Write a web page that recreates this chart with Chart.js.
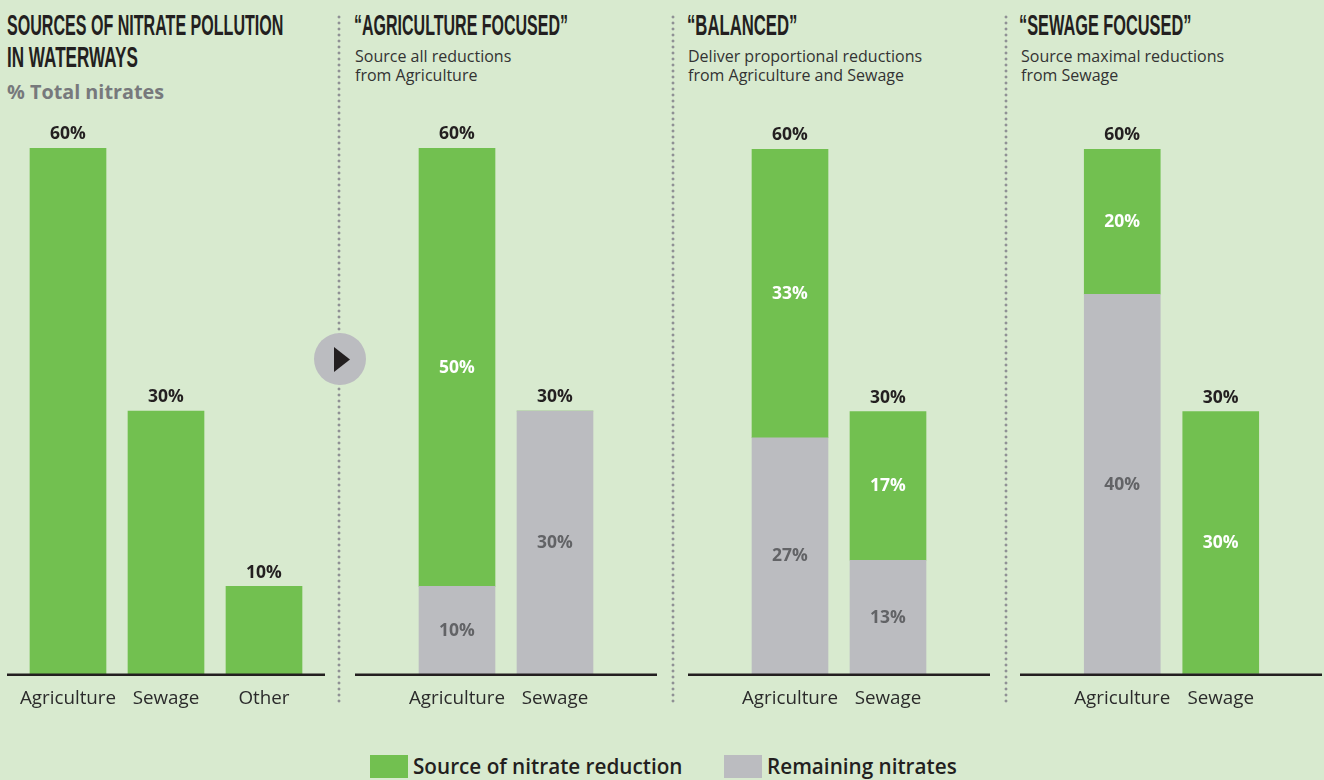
<!DOCTYPE html>
<html>
<head>
<meta charset="utf-8">
<script src="https://cdn.jsdelivr.net/npm/chart.js@4/dist/chart.umd.js"></script>
<style>
  html, body { margin: 0; padding: 0; }
  body { width: 1324px; height: 780px; background: #d8eacf; position: relative; overflow: hidden; font-family: "Open Sans", sans-serif; color: #231f20; }
  canvas { position: absolute; }
  .title { position: absolute; font-family: "Liberation Sans", sans-serif; font-weight: 700; font-size: 29px; line-height: 32px; white-space: nowrap; transform-origin: 0 0; }
  .sub { position: absolute; font-size: 16px; line-height: 19px; color: #333; white-space: nowrap; }
  .unit { position: absolute; left: 7px; top: 79px; font-size: 19.8px; line-height: 26px; font-weight: 700; color: #77797c; }
  .divider { position: absolute; top: 14px; height: 691px; width: 4px; background: radial-gradient(circle at 2px 3px, #8f9195 1.3px, transparent 1.7px) 0 0 / 4px 6px repeat-y; }
  .swatch { position: absolute; top: 755px; width: 38px; height: 23px; }
  .legend { position: absolute; top: 752px; font-size: 20.7px; line-height: 28px; font-weight: 600; white-space: nowrap; }
  .play { position: absolute; left: 314px; top: 333px; }
</style>
</head>
<body>
<div class="divider" style="left:337px"></div>
<div class="divider" style="left:671px"></div>
<div class="divider" style="left:1004px"></div>

<div class="title" style="left:7px;top:9px;transform:scaleX(0.554)">SOURCES OF NITRATE POLLUTION</div>
<div class="title" style="left:7px;top:41px;transform:scaleX(0.59)">IN WATERWAYS</div>
<div class="unit">% Total nitrates</div>

<div class="title" style="left:354px;top:9px;transform:scaleX(0.552)">“AGRICULTURE FOCUSED”</div>
<div class="sub" style="left:355px;top:47px">Source all reductions<br>from Agriculture</div>

<div class="title" style="left:687px;top:9px;transform:scaleX(0.576)">“BALANCED”</div>
<div class="sub" style="left:688px;top:47px">Deliver proportional reductions<br>from Agriculture and Sewage</div>

<div class="title" style="left:1019px;top:9px;transform:scaleX(0.563)">“SEWAGE FOCUSED”</div>
<div class="sub" style="left:1021px;top:47px">Source maximal reductions<br>from Sewage</div>

<svg class="play" width="52" height="52">
  <circle cx="26" cy="26" r="26" fill="#bbbcc0"></circle>
  <polygon points="20,14 36,26.5 20,39" fill="#231f20"></polygon>
</svg>

<canvas id="sources" style="left:7px;top:110px" width="318" height="610"></canvas>
<canvas id="agriculture" style="left:355px;top:110px" width="302" height="610"></canvas>
<canvas id="balanced" style="left:688px;top:110px" width="302" height="610"></canvas>
<canvas id="sewage" style="left:1020px;top:110px" width="302" height="610"></canvas>

<div class="swatch" style="left:370px;background:#72c050"></div>
<div class="legend" style="left:413px">Source of nitrate reduction</div>
<div class="swatch" style="left:724px;background:#bbbcc0"></div>
<div class="legend" style="left:767px">Remaining nitrates</div>

<script>
const GREEN = '#72c050';
const GREY = '#bbbcc0';
const DARK = '#231f20';

// first panel
const sourceCategories = ['Agriculture', 'Sewage', 'Other'];
const sourceGreen = [60, 30, 10];
const sourceTotals = ['60%', '30%', '10%'];

const twoCategories = ['Agriculture', 'Sewage'];
const twoTotals = ['60%', '30%'];

// "Agriculture focused"
const agricultureGreen = [50, 0];
const agricultureGrey = [10, 30];
const agricultureGreenLabels = ['50%', ''];
const agricultureGreyLabels = ['10%', '30%'];

// "Balanced"
const balancedGreen = [33, 17];
const balancedGrey = [27, 13];
const balancedGreenLabels = ['33%', '17%'];
const balancedGreyLabels = ['27%', '13%'];

// "Sewage focused" - bar split is drawn at about 43/17 in the picture, printed as 40/20
const sewageGreen = [16.6, 30];
const sewageGrey = [43.4, 0];
const sewageGreenLabels = ['20%', '30%'];
const sewageGreyLabels = ['40%', ''];

const barLabels = {
    id: 'barLabels',
    afterDatasetsDraw(chart) {
        const ctx = chart.ctx;
        const area = chart.chartArea;
        const y = chart.scales.y;

        // baseline runs the full canvas width, wider than the plot area
        ctx.save();
        ctx.fillStyle = DARK;
        ctx.fillRect(0, area.bottom - 0.5, chart.width, 2.5);

        ctx.textAlign = 'center';
        ctx.textBaseline = 'middle';
        ctx.font = '700 17.5px "Open Sans"';

        chart.data.datasets.forEach((ds, i) => {
            chart.getDatasetMeta(i).data.forEach((bar, j) => {
                const text = ds.inside[j];
                if (!text) return;
                ctx.fillStyle = ds.insideColor;
                ctx.fillText(text, bar.x, (bar.y + bar.base) / 2 + 0.5);
            });
        });

        const totals = chart.options.plugins.barLabels.totals;
        ctx.fillStyle = DARK;
        chart.getDatasetMeta(0).data.forEach((bar, j) => {
            const sum = chart.data.datasets.reduce((s, ds) => s + ds.data[j], 0);
            ctx.fillText(totals[j], bar.x, y.getPixelForValue(sum) - 13.5);
        });
        ctx.restore();
    }
};

function makePanel(id, categories, green, grey, greenLabels, greyLabels, totals, padLeft, padRight, padTop) {
    const datasets = [];
    if (grey) {
        datasets.push({ data: grey, backgroundColor: GREY, inside: greyLabels, insideColor: '#626366' });
    }
    datasets.push({ data: green, backgroundColor: GREEN, inside: greenLabels, insideColor: '#ffffff' });

    new Chart(document.getElementById(id), {
        type: 'bar',
        data: { labels: categories, datasets: datasets },
        plugins: [barLabels],
        options: {
            responsive: false,
            animation: false,
            layout: { padding: { left: padLeft, right: padRight, top: padTop, bottom: 0 } },
            datasets: { bar: { barThickness: 76 } },
            plugins: {
                legend: { display: false },
                tooltip: { enabled: false },
                barLabels: { totals: totals }
            },
            scales: {
                x: {
                    stacked: true,
                    grid: { display: false },
                    border: { display: false },
                    afterFit: scale => { scale.height = 46; },
                    ticks: {
                        autoSkip: false,
                        maxRotation: 0,
                        padding: 5,
                        color: '#2b2b2b',
                        font: { family: 'Open Sans', size: 18.8 }
                    }
                },
                y: { stacked: true, display: false, min: 0, max: 60 }
            }
        }
    });
}

makePanel('sources', sourceCategories, sourceGreen, null, [], [], sourceTotals, 12, 12, 38);
makePanel('agriculture', twoCategories, agricultureGreen, agricultureGrey, agricultureGreenLabels, agricultureGreyLabels, twoTotals, 53, 53, 38);
makePanel('balanced', twoCategories, balancedGreen, balancedGrey, balancedGreenLabels, balancedGreyLabels, twoTotals, 53, 53, 39);
makePanel('sewage', twoCategories, sewageGreen, sewageGrey, sewageGreenLabels, sewageGreyLabels, twoTotals, 53, 52, 39);
</script>
</body>
</html>
